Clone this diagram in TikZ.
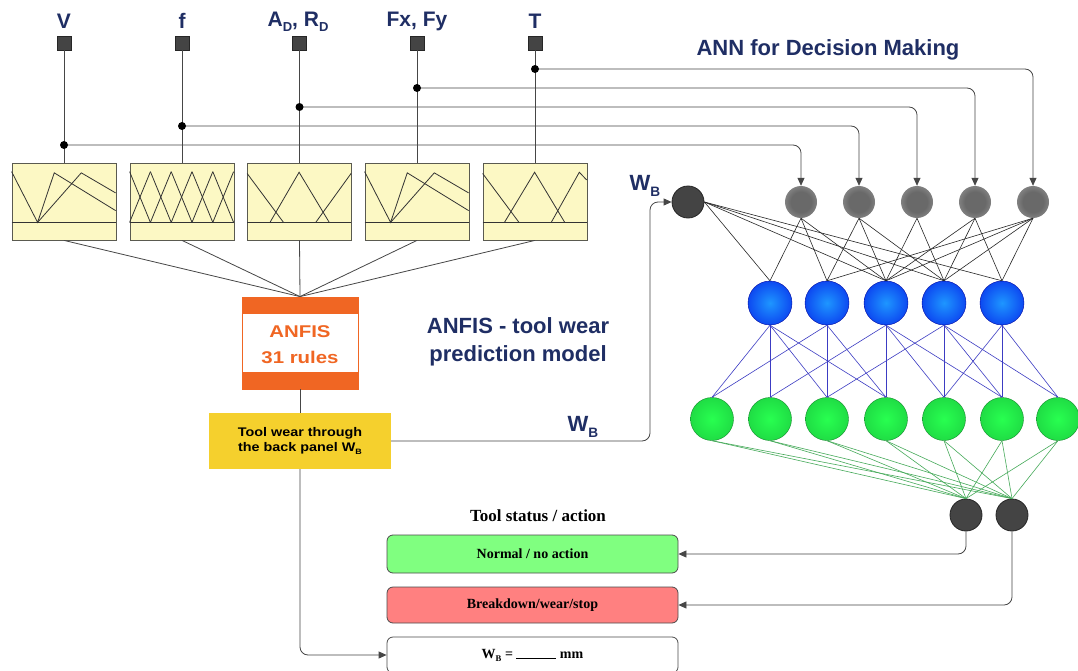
\documentclass[tikz,border=0pt]{standalone}
\usepackage{fontspec}
\setmainfont{Liberation Sans}
\newfontfamily\serifbf{Liberation Serif}
\usetikzlibrary{arrows.meta,calc}
\definecolor{navy}{RGB}{31,46,100}
\definecolor{lnc}{RGB}{70,70,70}
\definecolor{sqc}{RGB}{68,68,68}
\definecolor{mff}{RGB}{252,248,196}
\definecolor{mfd}{RGB}{90,90,80}
\definecolor{orng}{RGB}{240,102,35}
\definecolor{yel}{RGB}{245,208,45}
\definecolor{grC}{RGB}{105,105,105}
\definecolor{grE}{RGB}{185,185,185}
\definecolor{blC}{RGB}{30,150,255}
\definecolor{blE}{RGB}{0,15,230}
\definecolor{gnC}{RGB}{40,255,80}
\definecolor{gnE}{RGB}{25,195,60}
\definecolor{dkn}{RGB}{68,68,68}
\definecolor{bline}{RGB}{60,60,195}
\definecolor{gline}{RGB}{70,170,90}
\definecolor{okf}{RGB}{128,255,128}
\definecolor{badf}{RGB}{255,128,128}
\pgfdeclareradialshading{grayball}{\pgfpoint{0bp}{0bp}}{color(0bp)=(grC); color(16bp)=(grC); color(47bp)=(grE); color(50bp)=(grE)}
\pgfdeclareradialshading{blueball}{\pgfpoint{0bp}{0bp}}{color(0bp)=(blC); color(44bp)=(blE); color(50bp)=(blE)}
\pgfdeclareradialshading{greenball}{\pgfpoint{0bp}{0bp}}{color(0bp)=(gnC); color(44bp)=(gnE); color(50bp)=(gnE)}
\newcommand\lsub[1]{\raisebox{-0.45ex}{\scalebox{0.62}{#1}}}
\begin{document}
\begin{tikzpicture}[x=1pt,y=-1pt,
  ln/.style={draw=lnc, line width=0.8pt},
  arr/.style={ln, -{Triangle[length=8pt,width=7pt]}, rounded corners=8pt},
  inlab/.style={font=\bfseries\fontsize{21}{24}\selectfont, text=navy, inner sep=0pt},
  sq/.style={draw=black!85, fill=sqc, minimum size=14pt, inner sep=0pt},
  mfb/.style={draw=mfd, fill=mff, minimum width=104pt, minimum height=77pt, inner sep=0pt, line width=0.8pt},
  mfl/.style={line width=0.8pt, draw=black!80},
  dotc/.style={circle, fill=black, minimum size=8pt, inner sep=0pt},
  gnode/.style={circle, minimum size=32pt, inner sep=0pt, shading=grayball},
  dnode/.style={circle, minimum size=32pt, inner sep=0pt, fill=dkn, draw=black!85, line width=0.8pt},
  bnode/.style={circle, minimum size=44pt, inner sep=0pt, shading=blueball, draw=blE!70!black, line width=0.4pt},
  gnnode/.style={circle, minimum size=43pt, inner sep=0pt, shading=greenball, draw=gnE!70!black, line width=0.4pt},
  nn/.style={line width=0.6pt, draw=black!85},
  bn/.style={line width=0.6pt, draw=bline},
  gn/.style={line width=0.6pt, draw=gline},
  title/.style={font=\bfseries\fontsize{22}{28}\selectfont, text=navy, align=center, inner sep=0pt},
  stbox/.style={draw=black!70, rounded corners=6pt, minimum width=291pt, line width=0.8pt, font=\serifbf\bfseries\fontsize{14}{16}\selectfont}
]
\fill[white] (0,0) rectangle (1078,671);
\useasboundingbox (0,0) rectangle (1078,671);

% input labels and squares
\node[inlab] (lV) at (64,21) {V};
\node[inlab] (lf) at (182,21) {f};
\node[inlab] (lA) at (298,22) {A\lsub{D}, R\lsub{D}};
\node[inlab] (lF) at (417,21) {Fx, Fy};
\node[inlab] (lT) at (535,21) {T};
\foreach \i/\x in {1/64,2/182,3/299.5,4/417,5/535}{
  \node[sq] (s\i) at (\x,43) {};
  \node[mfb] (m\i) at (\x,201.5) {};
  \draw[ln] (s\i.south) -- (m\i.north);
}
% junction points
\coordinate (d1) at (64,145);
\coordinate (d2) at (182,126);
\coordinate (d3) at (299.5,107);
\coordinate (d4) at (417,88);
\coordinate (d5) at (535,69);

% membership functions
\begin{scope}[shift={($(m1.south west)+(0,-18)$)}, x=104pt, y=59pt]
  \draw[mfl] (0,0) -- (1,0);
  \draw[mfl] (0,0.86)--(0.25,0)--(0.41,0.84)--(1,0.2);
  \draw[mfl] (0.25,0)--(0.67,0.84)--(1,0.5);
\end{scope}
\begin{scope}[shift={($(m2.south west)+(0,-18)$)}, x=104pt, y=59pt]
  \draw[mfl] (0,0) -- (1,0);
  \foreach \k in {0,...,4}{
    \draw[mfl] (\k/5,0)--(\k/5+0.2,0.86);
    \draw[mfl] (\k/5,0.86)--(\k/5+0.2,0);
  }
\end{scope}
\begin{scope}[shift={($(m3.south west)+(0,-18)$)}, x=104pt, y=59pt]
  \draw[mfl] (0,0) -- (1,0);
  \draw[mfl] (0,0.83)--(0.35,0);
  \draw[mfl] (0.22,0)--(0.5,0.85)--(0.79,0);
  \draw[mfl] (0.66,0)--(1,0.83);
\end{scope}
\begin{scope}[shift={($(m4.south west)+(0,-18)$)}, x=104pt, y=59pt]
  \draw[mfl] (0,0) -- (1,0);
  \draw[mfl] (0,0.86)--(0.25,0)--(0.41,0.84)--(1,0.2);
  \draw[mfl] (0.25,0)--(0.67,0.84)--(1,0.5);
\end{scope}
\begin{scope}[shift={($(m5.south west)+(0,-18)$)}, x=104pt, y=59pt]
  \draw[mfl] (0,0) -- (1,0);
  \draw[mfl] (0,0.83)--(0.35,0);
  \draw[mfl] (0.21,0)--(0.5,0.85)--(0.79,0);
  \draw[mfl] (0.66,0)--(0.93,0.85)--(1,0.72);
\end{scope}

% ANFIS box
\node[draw=orng, fill=white, minimum width=116pt, minimum height=92pt, inner sep=0pt, line width=0.8pt] (anfis) at (300,343) {};
\fill[orng] (anfis.north west) rectangle ($(anfis.north east)+(0,17)$);
\fill[orng] (anfis.south west) rectangle ($(anfis.south east)+(0,-17)$);
\node[text=orng, font=\bfseries\fontsize{17}{20}\selectfont, inner sep=0pt] (anf1) at (300,332) {\scalebox{1.2}[1]{ANFIS}};
\node[text=orng, font=\bfseries\fontsize{17}{20}\selectfont, inner sep=0pt] (anf2) at (300,357) {\scalebox{1.2}[1]{31 rules}};
\foreach \i in {1,...,5}{ \draw[ln] (m\i.south) -- (anfis.north); }

% yellow box
\node[fill=yel, minimum width=182pt, minimum height=56pt, inner sep=0pt, align=center,
      font=\bfseries\fontsize{12.5}{15.5}\selectfont] (yb) at (300,441)
      {\scalebox{1.15}[1]{Tool wear through}\\\scalebox{1.15}[1]{the back panel W\lsub{B}}};
\draw[ln] (anfis.south) -- (yb.north);

\node[title] (anfT) at (518,342) {ANFIS - tool wear\\prediction model};
\node[title] (annT) at (828,50) {ANN for Decision Making};
\node[title] (wb2) at (583,427) {W\lsub{B}};
\node[title] (wb1) at (645,186) {W\lsub{B}};

% network nodes
\node[dnode] (wbn) at (688,202) {};
\foreach \i/\x in {1/801,2/859,3/917,4/975,5/1033}{ \node[gnode] (g\i) at (\x,202) {}; }
\foreach \i/\x in {1/770,2/827,3/886,4/944,5/1002}{ \node[bnode] (b\i) at (\x,303) {}; }
\foreach \i/\x in {1/712,2/770,3/827,4/886,5/944,6/1002,7/1058}{ \node[gnnode] (n\i) at (\x,419) {}; }
\node[dnode] (o1) at (966,515) {};
\node[dnode] (o2) at (1012,515) {};

% input routing
\draw[arr] (d1) -| (g1.north);
\draw[arr] (d2) -| (g2.north);
\draw[arr] (d3) -| (g3.north);
\draw[arr] (d4) -| (g4.north);
\draw[arr] (d5) -| (g5.north);
\foreach \i in {1,...,5}{ \node[dotc] (dd\i) at (d\i) {}; }

% W_B to network
\draw[arr] (yb.east) -| (650,260) |- (wbn.west);

% connections
\foreach \b in {1,3,4,5}{ \draw[nn] (wbn.east) -- (b\b.north); }
\foreach \g/\b in {1/1,1/2,1/3,2/2,2/3,2/4,3/3,3/4,4/3,4/4,4/5,5/2,5/3,5/4,5/5}{ \draw[nn] (g\g.south) -- (b\b.north); }
\foreach \b/\n in {1/1,1/2,1/3,1/4,2/1,2/3,2/4,3/2,3/4,3/5,3/6,4/3,4/5,4/6,4/7,5/5,5/6,5/7}{ \draw[bn] (b\b.south) -- (n\n.north); }
\foreach \n in {1,...,7}{ \draw[gn] (n\n.south) -- (o1.north); \draw[gn] (n\n.south) -- (o2.north); }

% status boxes
\node[font=\serifbf\bfseries\fontsize{17}{20}\selectfont, inner sep=0pt] (stT) at (538,516) {Tool status / action};
\node[stbox, fill=okf, minimum height=38pt] (nb) at (532.5,554) {Normal / no action};
\node[stbox, fill=badf, minimum height=36pt] (rb) at (532.5,605) {Breakdown/wear/stop};
\node[stbox, fill=white, minimum height=36pt] (wb) at (532.5,655) {W\lsub{B} = \rule[-1pt]{40pt}{0.8pt} mm};

\draw[arr] (o1.south) |- (nb.east);
\draw[arr] (o2.south) |- (rb.east);
\draw[arr] (yb.south) |- (wb.west);
\end{tikzpicture}
\end{document}
